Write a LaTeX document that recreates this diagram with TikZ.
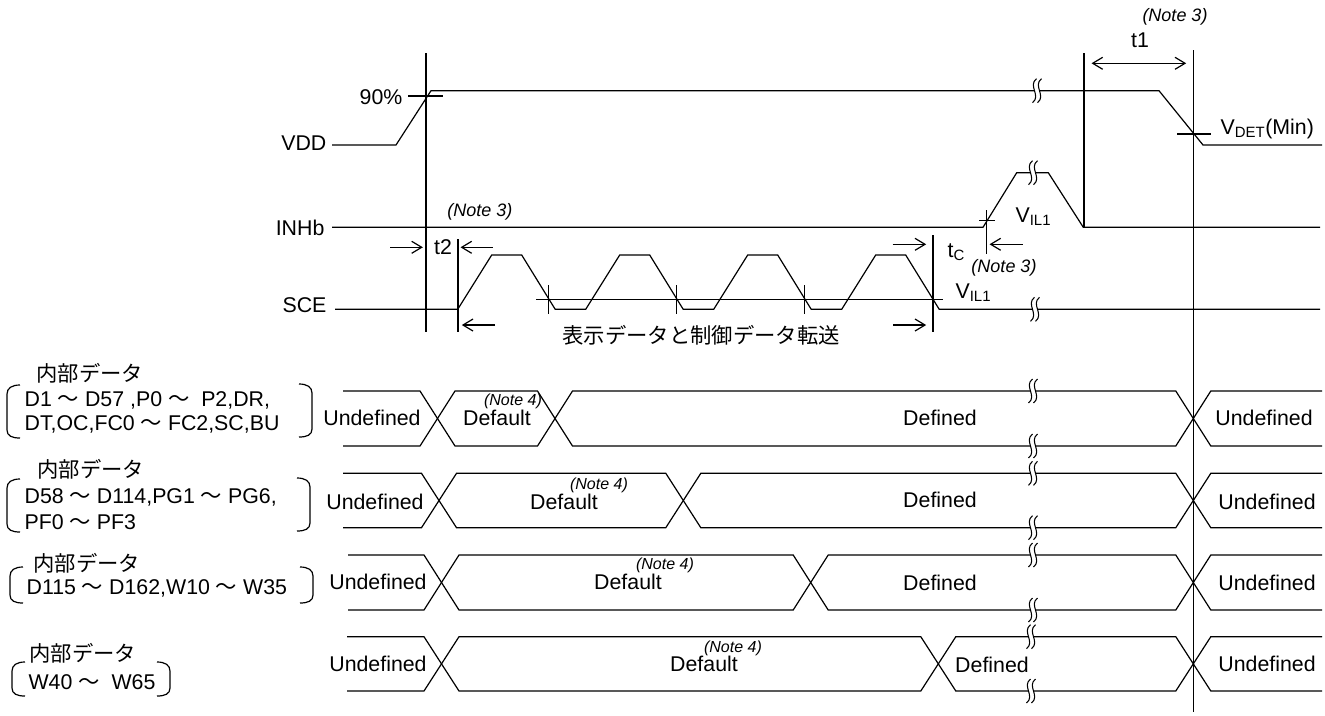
\documentclass[tikz,border=0pt]{standalone}
\usepackage{fontspec}
\setmainfont{Liberation Sans}
\newfontfamily\jpfont{Noto Sans CJK JP}
\usepackage{tikz}
\newcommand{\wv}{{\jpfont ～}}

\begin{document}
\begin{tikzpicture}[x=0.75pt,y=0.75pt,yscale=-1,xscale=1,line width=0.9pt,
  lbl/.style={inner sep=0.75pt,font=\fontsize{16}{19}\selectfont},
  jlbl/.style={inner sep=0.75pt,font=\fontsize{16}{19}\selectfont\jpfont},
  note/.style={inner sep=0.75pt,font=\fontsize{13.5}{16}\selectfont\itshape},
  smallnote/.style={inner sep=0.75pt,font=\fontsize{12}{14}\selectfont\itshape},
  brk/.pic={
    \fill[white] (-4.5,-12) .. controls (4.5,-5) and (-9.5,5) .. (-0.5,12) -- (4.5,12) .. controls (-4.5,5) and (9.5,-5) .. (0.5,-12) -- cycle ;
    \draw[line width=0.8pt] (-4.5,-12) .. controls (4.5,-5) and (-9.5,5) .. (-0.5,12) ;
    \draw[line width=0.8pt] (0.5,-12) .. controls (9.5,-5) and (-4.5,5) .. (4.5,12) ;
  }]
%set diagram size: 1325 x 715
\useasboundingbox (0,0) rectangle (1325,715);

%Straight Lines [guide lines]
\draw    (426,53) -- (426,332) ;
\draw    (458,239) -- (458,332) ;
\draw    (933,235) -- (933,332) ;
\draw    (1084,53) -- (1084,227.3) ;
\draw    (1193.3,50) -- (1193.3,712) ;

%Straight Lines [VDD]
\draw    (332,145) -- (396,145) -- (431,90.7) -- (1159,90.7) -- (1203,145) -- (1322,145) ;
\draw    (408,96) -- (443,96) ;
\draw    (1177,134) -- (1211,134) ;
\pic at (1037,90.7) {brk};

%Straight Lines [INHb]
\draw    (332,227.3) -- (983,227.3) -- (1016.7,172.7) -- (1048.3,172.7) -- (1083.3,227.3) -- (1320,227.3) ;
\draw    (979,220.5) -- (995,220.5) ;
\draw    (986.7,210) -- (986.7,254) ;
\pic at (1033,172.7) {brk};

%Straight Lines [SCE]
\draw    (335,309.3) -- (457.7,309.3)
  -- (491.7,255) -- (521.7,255) -- (555.2,309.3) -- (585.7,309.3)
  -- (619.7,255) -- (649.7,255) -- (683.2,309.3) -- (713.7,309.3)
  -- (747.7,255) -- (777.7,255) -- (811.2,309.3) -- (841.7,309.3)
  -- (875.7,255) -- (905.7,255) -- (939.2,309.3) -- (1320,309.3) ;
\draw    (536,299.3) -- (943,299.3) ;
\draw    (548.8,285) -- (548.8,314) ;
\draw    (676.8,285) -- (676.8,314) ;
\draw    (804.8,285) -- (804.8,314) ;
\pic at (1035,309.3) {brk};

%Straight Lines [t2]
\draw    (390,247.3) -- (421.7,247.3) ;
\draw [shift={(421.7,247.3)}, rotate = 0] (-10,-6) -- (0,0) -- (-10,6) ;
\draw    (492.7,247.3) -- (461.7,247.3) ;
\draw [shift={(461.7,247.3)}, rotate = 180] (-10,-6) -- (0,0) -- (-10,6) ;
%Straight Lines [transfer]
\draw    (495,325) -- (463,325) ;
\draw [shift={(463,325)}, rotate = 180] (-10,-6) -- (0,0) -- (-10,6) ;
\draw    (893,325) -- (925,325) ;
\draw [shift={(925,325)}, rotate = 0] (-10,-6) -- (0,0) -- (-10,6) ;
%Straight Lines [tc]
\draw    (892.7,244.3) -- (925,244.3) ;
\draw [shift={(925,244.3)}, rotate = 0] (-10,-6) -- (0,0) -- (-10,6) ;
\draw    (1022.7,244.3) -- (990.7,244.3) ;
\draw [shift={(990.7,244.3)}, rotate = 180] (-10,-6) -- (0,0) -- (-10,6) ;
%Straight Lines [t1]
\draw    (1092.7,63.3) -- (1185,63.3) ;
\draw [shift={(1185,63.3)}, rotate = 0] (-10,-6) -- (0,0) -- (-10,6) ;
\draw [shift={(1092.7,63.3)}, rotate = 180] (-10,-6) -- (0,0) -- (-10,6) ;

%Bus Row 1
\draw    (343,391) -- (420,391) -- (455,446) -- (537.5,446) -- (572.5,391) -- (1175.8,391) -- (1210.8,446) -- (1322,446) ;
\draw    (343,446) -- (420,446) -- (455,391) -- (537.5,391) -- (572.5,446) -- (1175.8,446) -- (1210.8,391) -- (1322,391) ;
\pic at (1033,391) {brk};
\pic at (1033,446) {brk};
%Bus Row 2
\draw    (343,473.3) -- (421.5,473.3) -- (456.5,527.7) -- (665.8,527.7) -- (700.8,473.3) -- (1175.8,473.3) -- (1210.8,527.7) -- (1322,527.7) ;
\draw    (343,527.7) -- (421.5,527.7) -- (456.5,473.3) -- (665.8,473.3) -- (700.8,527.7) -- (1175.8,527.7) -- (1210.8,473.3) -- (1322,473.3) ;
\pic at (1033,473.3) {brk};
\pic at (1033,527.7) {brk};
%Bus Row 3
\draw    (348,555) -- (424,555) -- (459,610) -- (793.2,610) -- (828.2,555) -- (1175.8,555) -- (1210.8,610) -- (1322,610) ;
\draw    (348,610) -- (424,610) -- (459,555) -- (793.2,555) -- (828.2,610) -- (1175.8,610) -- (1210.8,555) -- (1322,555) ;
\pic at (1033,555) {brk};
\pic at (1033,610) {brk};
%Bus Row 4
\draw    (347,636.7) -- (424,636.7) -- (459,691) -- (920.8,691) -- (955.8,636.7) -- (1175.8,636.7) -- (1210.8,691) -- (1322,691) ;
\draw    (347,691) -- (424,691) -- (459,636.7) -- (920.8,636.7) -- (955.8,691) -- (1175.8,691) -- (1210.8,636.7) -- (1322,636.7) ;
\pic at (1031,636.7) {brk};
\pic at (1031,691) {brk};

%Brackets
\draw    (20,385) .. controls (12,385) and (7,388) .. (7,394) -- (7,430) .. controls (7,436) and (12,438) .. (20,438) ;
\draw    (299,384) .. controls (307,384) and (312,387) .. (312,393) -- (312,429) .. controls (312,435) and (307,437) .. (299,437) ;
\draw    (20,479) .. controls (12,479) and (7,482) .. (7,488) -- (7,524) .. controls (7,530) and (12,532) .. (20,532) ;
\draw    (297,478) .. controls (305,478) and (310,481) .. (310,487) -- (310,523) .. controls (310,529) and (305,531) .. (297,531) ;
\draw    (23,567) .. controls (15,567) and (10,570) .. (10,576) -- (10,595) .. controls (10,601) and (15,603) .. (23,603) ;
\draw    (300,567) .. controls (308,567) and (313,570) .. (313,576) -- (313,595) .. controls (313,601) and (308,603) .. (300,603) ;
\draw    (25,662) .. controls (17,662) and (12,665) .. (12,671) -- (12,688) .. controls (12,694) and (17,696) .. (25,696) ;
\draw    (157,662) .. controls (165,662) and (170,665) .. (170,671) -- (170,688) .. controls (170,694) and (165,696) .. (157,696) ;

% Text Node
\draw (1175,17) node [note] (noteT1) {(Note 3)};
% Text Node
\draw (1140,40) node [lbl] (lblT1) {t1};
% Text Node
\draw (404,97) node [lbl,anchor=east] (lblPct) {90\%};
% Text Node
\draw (328,143) node [lbl,anchor=east] (lblVDD) {VDD};
% Text Node
\draw (1219,134) node [lbl,anchor=base west] (lblVdet) {V\textsubscript{DET}(Min)};
% Text Node
\draw (480,212) node [note] (noteInh) {(Note 3)};
% Text Node
\draw (326,228) node [lbl,anchor=east] (lblINHb) {INHb};
% Text Node
\draw (1014,222) node [lbl,anchor=base west] (lblVilA) {V\textsubscript{IL1}};
% Text Node
\draw (443,247) node [lbl] (lblT2) {t2};
% Text Node
\draw (946,257) node [lbl,anchor=base west] (lblTc) {t\textsubscript{C}};
% Text Node
\draw (1004,268) node [note] (noteTc) {(Note 3)};
% Text Node
\draw (954,298) node [lbl,anchor=base west] (lblVilB) {V\textsubscript{IL1}};
% Text Node
\draw (328,305) node [lbl,anchor=east] (lblSCE) {SCE};
% Text Node
\draw (701,335) node [jlbl] (lblXfer) {表示データと制御データ転送};

% Text Node [row 1]
\draw (35,373) node [jlbl,anchor=west] (hdA) {内部データ};
\draw (23,400) node [lbl,anchor=west] (regA1) {D1 \wv\ D57 ,P0 \wv\ \ P2,DR,};
\draw (23,424) node [lbl,anchor=west] (regA2) {DT,OC,FC0 \wv\ FC2,SC,BU};
\draw (372,418) node [lbl] (undA) {Undefined};
\draw (497,418) node [lbl] (defA) {Default};
\draw (513,401) node [smallnote] (noteA) {(Note 4)};
\draw (940,418) node [lbl] (fixA) {Defined};
\draw (1264,418) node [lbl] (undA2) {Undefined};
% Text Node [row 2]
\draw (36,469) node [jlbl,anchor=west] (hdB) {内部データ};
\draw (23,497) node [lbl,anchor=west] (regB1) {D58 \wv\ D114,PG1 \wv\ PG6,};
\draw (23,522) node [lbl,anchor=west] (regB2) {PF0 \wv\ PF3};
\draw (375,502) node [lbl] (undB) {Undefined};
\draw (564,502) node [lbl] (defB) {Default};
\draw (599,485) node [smallnote] (noteB) {(Note 4)};
\draw (940,500) node [lbl] (fixB) {Defined};
\draw (1267,502) node [lbl] (undB2) {Undefined};
% Text Node [row 3]
\draw (32,563) node [jlbl,anchor=west] (hdC) {内部データ};
\draw (25,588) node [lbl,anchor=west] (regC1) {D115 \wv\ D162,W10 \wv\ W35};
\draw (378,582) node [lbl] (undC) {Undefined};
\draw (628,582) node [lbl] (defC) {Default};
\draw (665,565) node [smallnote] (noteC) {(Note 4)};
\draw (940,583) node [lbl] (fixC) {Defined};
\draw (1267,583) node [lbl] (undC2) {Undefined};
% Text Node [row 4]
\draw (28,653) node [jlbl,anchor=west] (hdD) {内部データ};
\draw (27,682) node [lbl,anchor=west] (regD1) {W40 \wv\ \ W65};
\draw (378,664) node [lbl] (undD) {Undefined};
\draw (704,664) node [lbl] (defD) {Default};
\draw (733,648) node [smallnote] (noteD) {(Note 4)};
\draw (992,665) node [lbl] (fixD) {Defined};
\draw (1267,664) node [lbl] (undD2) {Undefined};

\end{tikzpicture}
\end{document}
